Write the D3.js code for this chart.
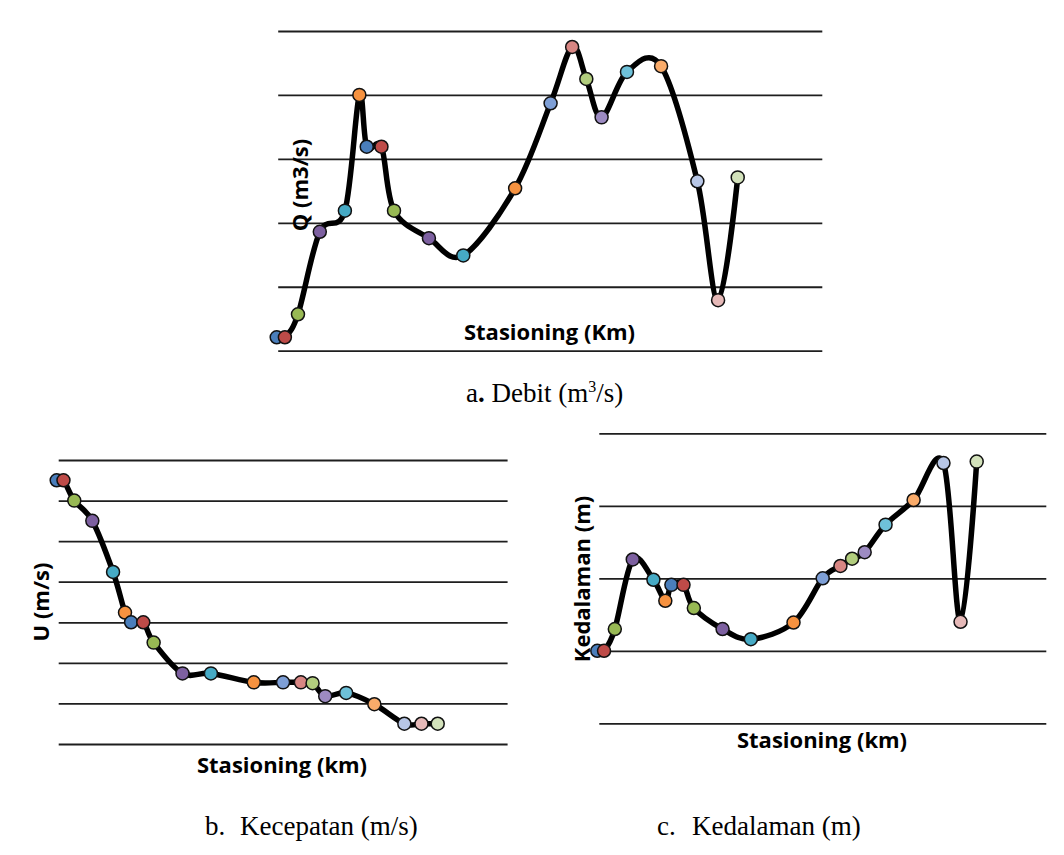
<!DOCTYPE html>
<html lang="id">
<head>
  <meta charset="UTF-8">
  <title>Debit, Kecepatan, Kedalaman</title>
  <script src="https://d3js.org/d3.v7.min.js"></script>
  <style>
    body { margin: 0; background: #fff; }
    .grid line { stroke: #1e1e1e; stroke-width: 1.8; }
    .grid path { display: none; }
    .line { fill: none; stroke: #000; stroke-width: 5.5; stroke-linejoin: round; }
    .dot { stroke: #111; stroke-width: 1.5; }
    .title { font-family: "Open Sans", sans-serif; font-weight: bold; font-size: 22px; fill: #000; }
    .caption { font-family: "Liberation Serif", "Times New Roman", serif; font-size: 27px; fill: #000; }
  </style>
</head>
<body>
<script>
  // stationing (km) shared by the three plots
  const stations = [0, 0.30, 0.78, 1.58, 2.50, 3.03, 3.30, 3.84, 4.30, 5.58, 6.84,
                    8.74, 10.04, 10.83, 11.35, 11.91, 12.84, 14.09, 15.42, 16.18, 16.90];

  // a. Debit (m3/s)
  const debit = [2.1, 2.1, 5.7, 18.6, 21.9, 40.0, 31.9, 31.9, 21.9, 17.6, 14.9,
                 25.4, 38.7, 47.5, 42.5, 36.5, 43.6, 44.5, 26.5, 7.9, 27.1];
  // b. Kecepatan (m/s)
  const kecepatan = [3.25, 3.25, 3.00, 2.75, 2.12, 1.62, 1.50, 1.50, 1.25, 0.87, 0.87,
                     0.76, 0.76, 0.76, 0.75, 0.59, 0.63, 0.49, 0.25, 0.25, 0.25];
  // c. Kedalaman (m)
  const kedalaman = [1.00, 1.00, 1.30, 2.26, 1.98, 1.69, 1.91, 1.91, 1.59, 1.30, 1.16,
                     1.39, 2.00, 2.17, 2.27, 2.36, 2.74, 3.08, 3.59, 1.40, 3.61];

  const ticksA = [0, 10, 20, 30, 40, 50];
  const ticksB = [0, 0.5, 1, 1.5, 2, 2.5, 3, 3.5];
  const ticksC = [0, 1, 2, 3, 4];

  // excel "vary colors by point"
  const pointColors = ['#4a7ebb', '#be4b48', '#98b954', '#7d60a0', '#46aac5', '#f69240',
                       '#4a7ebb', '#be4b48', '#98b954', '#7d60a0', '#46aac5', '#f69240',
                       '#7e9fd6', '#d88683', '#b2cd7e', '#9d8bc2', '#6ec1d9', '#f9ab6a',
                       '#b7c6e6', '#e6b9b8', '#d3e2bb'];

  const svg = d3.select('body').append('svg')
    .attr('width', 1064)
    .attr('height', 855);

  const line = (x, y) => d3.line()
    .x(d => x(d.s))
    .y(d => y(d.v))
    .curve(d3.curveCardinal.tension(0));

  function drawChart(cfg) {
    const data = stations.map((s, i) => ({s: s, v: cfg.values[i], c: pointColors[i]}));
    const x = d3.scaleLinear().domain([0, 20]).range(cfg.xr);
    const y = d3.scaleLinear().domain(d3.extent(cfg.ticks)).range(cfg.yr);
    const g = svg.append('g');

    // horizontal gridlines only
    g.append('g').attr('class', 'grid')
      .attr('transform', `translate(${cfg.xr[0] + cfg.gridPad},0)`)
      .call(d3.axisLeft(y).tickValues(cfg.ticks).tickFormat('')
        .tickSizeInner(-(cfg.xr[1] - cfg.xr[0] - cfg.gridPad)).tickSizeOuter(0));

    g.append('text').attr('class', 'title')
      .attr('text-anchor', 'middle')
      .attr('x', cfg.xt[0]).attr('y', cfg.xt[1])
      .text(cfg.xTitle);

    g.append('text').attr('class', 'title')
      .attr('text-anchor', 'middle')
      .attr('dominant-baseline', 'central')
      .attr('transform', `translate(${cfg.yt[0]},${cfg.yt[1]}) rotate(-90)`)
      .text(cfg.yTitle);

    g.append('path')
      .datum(data)
      .attr('class', 'line')
      .attr('d', line(x, y));

    g.selectAll('.dot')
      .data(data)
      .enter().append('circle')
      .attr('class', 'dot')
      .attr('cx', d => x(d.s))
      .attr('cy', d => y(d.v))
      .attr('r', 6.5)
      .attr('fill', d => d.c);
  }

  drawChart({values: debit, ticks: ticksA, xr: [276.7, 822.3], yr: [350.7, 31], gridPad: 1.5,
             xTitle: 'Stasioning (Km)', xt: [549.5, 340], yTitle: 'Q (m3/s)', yt: [299, 185]});
  drawChart({values: kecepatan, ticks: ticksB, xr: [56.7, 507.6], yr: [744, 460], gridPad: 2,
             xTitle: 'Stasioning (km)', xt: [282, 773], yTitle: 'U (m/s)', yt: [40, 602]});
  drawChart({values: kedalaman, ticks: ticksC, xr: [597.3, 1046.3], yr: [723.3, 433.3], gridPad: 2,
             xTitle: 'Stasioning (km)', xt: [822, 748], yTitle: 'Kedalaman (m)', yt: [581, 579]});

  // captions under each plot
  const capA = svg.append('text').attr('class', 'caption').attr('x', 466).attr('y', 402);
  capA.append('tspan').text('a');
  capA.append('tspan').attr('font-weight', 'bold').text('.');
  capA.append('tspan').text(' Debit (m');
  capA.append('tspan').attr('font-size', 16).attr('dy', -10).text('3');
  capA.append('tspan').attr('dy', 10).text('/s)');

  svg.append('text').attr('class', 'caption').attr('x', 205).attr('y', 835).text('b.');
  svg.append('text').attr('class', 'caption').attr('x', 240).attr('y', 835).text('Kecepatan (m/s)');
  svg.append('text').attr('class', 'caption').attr('x', 657).attr('y', 835).text('c.');
  svg.append('text').attr('class', 'caption').attr('x', 692).attr('y', 835).text('Kedalaman (m)');
</script>
</body>
</html>
